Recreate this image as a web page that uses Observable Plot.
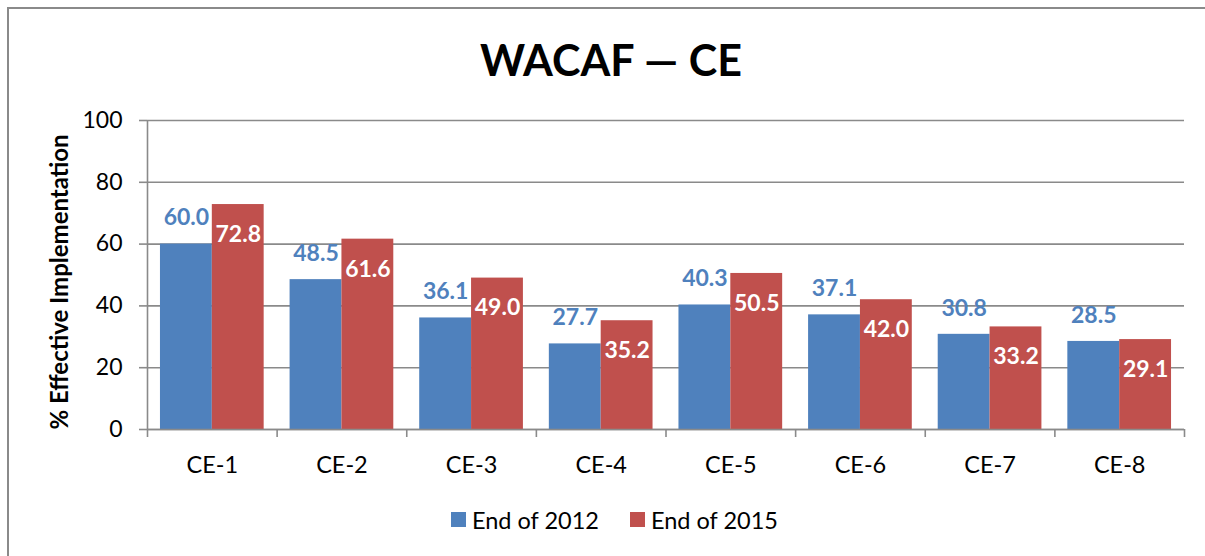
<!DOCTYPE html>
<html>
<head>
<meta charset="utf-8">
<script src="https://cdn.jsdelivr.net/npm/d3@7"></script>
<script src="https://cdn.jsdelivr.net/npm/@observablehq/plot@0.6"></script>
<style>
  body { margin: 0; background: #fff; font-family: Lato, "Open Sans", sans-serif; }
  #wrap { position: relative; width: 1205px; height: 556px; overflow: hidden; background: #fff; }
  #frame { position: absolute; left: 7px; top: 7px; width: 1300px; height: 700px; border: 2px solid #8a8a8a; box-sizing: border-box; }
  #title { position: absolute; left: 0; width: 1222px; top: 30px; text-align: center; font-size: 43px; font-weight: 700; line-height: 60px; color: #000; }
  #plot { position: absolute; left: 0; top: 90px; }
  #ylabel { position: absolute; left: 59px; top: 282px; width: 0; height: 0; }
  #ylabel span { position: absolute; left: 0; top: 0; transform: translate(-50%, -50%) rotate(-90deg); white-space: nowrap; font-size: 24px; font-weight: 700; line-height: 30px; color: #000; }
  #legend { position: absolute; top: 506px; left: 451px; height: 28px; font-size: 23.5px; line-height: 28px; color: #000; white-space: nowrap; }
  .item { position: absolute; top: 0; }
  .sw { position: absolute; top: 6px; left: 0; width: 15px; height: 15px; }
  .lab { position: absolute; top: 0; left: 21px; }
</style>
</head>
<body>
<div id="wrap">
  <div id="frame"></div>
  <div id="title"></div>
  <div id="plot"></div>
  <div id="ylabel"><span></span></div>
  <div id="legend"></div>
</div>
<script>
const titleText = "WACAF — CE";
const yLabel = "% Effective Implementation";
const categories = ["CE-1", "CE-2", "CE-3", "CE-4", "CE-5", "CE-6", "CE-7", "CE-8"];
const seriesNames = ["End of 2012", "End of 2015"];
const values2012 = [60.0, 48.5, 36.1, 27.7, 40.3, 37.1, 30.8, 28.5];
const values2015 = [72.8, 61.6, 49.0, 35.2, 50.5, 42.0, 33.2, 29.1];
const yTicks = [0, 20, 40, 60, 80, 100];
const colors = ["#4F81BD", "#C0504D"];

const data2012 = categories.map((c, i) => ({cat: c, v: values2012[i]}));
const data2015 = categories.map((c, i) => ({cat: c, v: values2015[i]}));

const W = 1205, ML = 147, MR = 21, MT = 30, MB = 61, H = 400;
const step = (W - ML - MR) / categories.length;
const gray = "#8a8a8a";

document.getElementById("title").textContent = titleText;
document.querySelector("#ylabel span").textContent = yLabel;

const chart = Plot.plot({
  width: W,
  height: H,
  marginLeft: ML,
  marginRight: MR,
  marginTop: MT,
  marginBottom: MB,
  style: {fontFamily: "Lato, 'Open Sans', sans-serif", background: "transparent", color: "#000", overflow: "visible"},
  x: {type: "band", domain: categories, padding: 0, round: false},
  y: {domain: [0, 100]},
  marks: [
    Plot.gridY(yTicks, {stroke: gray, strokeOpacity: 1, strokeWidth: 1.6}),
    Plot.barY(data2012, {x: "cat", y: "v", fill: colors[0], insetLeft: step * 0.1, insetRight: step * 0.5}),
    Plot.barY(data2015, {x: "cat", y: "v", fill: colors[1], insetLeft: step * 0.5, insetRight: step * 0.1}),
    Plot.ruleY([0], {stroke: gray, strokeWidth: 1.6}),
    Plot.ruleX([categories[0]], {dx: -step / 2, stroke: gray, strokeWidth: 1.6}),
    Plot.axisX({tickSize: 8, dx: -step / 2, tickFormat: () => "", stroke: gray, strokeWidth: 1.6, label: null}),
    Plot.axisX([categories[categories.length - 1]], {tickSize: 8, dx: step / 2, tickFormat: () => "", stroke: gray, strokeWidth: 1.6, label: null}),
    Plot.axisX({tickSize: 0, tickPadding: 27, fontSize: 23.5, fill: "#000", label: null}),
    Plot.axisY(yTicks, {tickSize: 8, tickPadding: 17, fontSize: 23, stroke: gray, strokeWidth: 1.6, fill: "#000", label: null}),
    Plot.text(data2012, {x: "cat", y: "v", text: d => d.v.toFixed(1), dx: -step * 0.2, dy: -26, fill: colors[0], fontSize: 23, fontWeight: "bold"}),
    Plot.text(data2015, {x: "cat", y: "v", text: d => d.v.toFixed(1), dx: step * 0.2, dy: 30, fill: "#fff", fontSize: 23, fontWeight: "bold"})
  ]
});
document.getElementById("plot").appendChild(chart);

const legend = document.getElementById("legend");
const offsets = [0, 179];
seriesNames.forEach((name, i) => {
  const item = document.createElement("div");
  item.className = "item";
  item.style.left = offsets[i] + "px";
  item.innerHTML = `<span class="sw" style="background:${colors[i]}"></span><span class="lab">${name}</span>`;
  legend.appendChild(item);
});
</script>
</body>
</html>
